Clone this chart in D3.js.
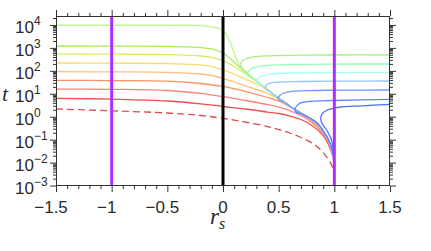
<!DOCTYPE html>
<html><head><meta charset="utf-8">
<script src="https://cdn.jsdelivr.net/npm/d3@7"></script>
<style>body{margin:0;background:#fff;overflow:hidden}</style>
</head><body>
<svg id="c" width="431" height="251"></svg>
<script>
// ---- axis / tick data ----
const xTicks = [-1.5, -1, -0.5, 0, 0.5, 1, 1.5];
const xTickLabels = ["−1.5", "−1", "−0.5", "0", "0.5", "1", "1.5"];
const yTickExps = [-3, -2, -1, 0, 1, 2, 3, 4];
const yTickLabels = ["−3", "−2", "−1", "0", "1", "2", "3", "4"];
const purpleLines = [-1, 1];
const blackLines = [0];

// ---- upper envelope (shared tail of merging curves) ----
const envR = [0.17, 0.2, 0.25, 0.3, 0.35, 0.4, 0.45, 0.5, 0.6, 0.7, 0.8, 0.85, 0.9, 0.93, 0.95, 0.97, 0.99, 1];
const envT = [126.5, 89, 56.6, 36.1, 24.1, 15.4, 9.77, 6.54, 2.93, 1.45, 0.755, 0.505, 0.238, 0.144, 0.0917, 0.0528, 0.0214, 0.00957];

// ---- left-branch curves (flat for r<0) ----
const l1R = [-1.5, -1, -0.5, -0.2, -0.1, -0.05, 0, 0.05, 0.09, 0.135, 0.17];
const l1T = [9680, 9680, 9680, 9400, 8330, 7390, 5740, 2570, 811, 231, 120];
const l2R = [-1.5, -1, -0.5, -0.2, -0.1, 0, 0.08, 0.15];
const l2T = [1211, 1199, 1175, 1042, 896, 600, 297, 140];
const l3R = [-1.5, -1, -0.5, -0.2, -0.1, 0, 0.1, 0.15, 0.2, 0.25];
const l3T = [543, 532, 511, 444, 382, 269, 155, 109, 76.6, 52.8];
const l4R = [-1.5, -1, -0.5, -0.2, -0.1, 0, 0.1, 0.15, 0.2, 0.3, 0.4];
const l4T = [220, 215, 207, 180, 152, 109, 72.8, 55.5, 44.1, 26.7, 14.6];
const l5R = [-1.5, -1, -0.5, -0.2, -0.1, 0, 0.1, 0.2, 0.3, 0.4, 0.5, 0.6, 0.7, 0.8, 0.9, 0.95, 0.99, 1];
const l5T = [91.7, 89.9, 86.4, 72.8, 62.6, 47.3, 32.6, 22.9, 15.4, 10.3, 5.91, 2.79, 1.38, 0.718, 0.226, 0.0872, 0.0203, 0.0091];
const l6R = [-1.5, -1, -0.5, -0.2, 0, 0.2, 0.4, 0.5, 0.6, 0.7, 0.8, 0.9, 0.95, 0.99, 1];
const l6T = [38.7, 37.5, 35.3, 28.1, 20.8, 12.6, 6.88, 4.84, 2.65, 1.31, 0.649, 0.215, 0.0829, 0.0193, 0.00866];
const l7R = [-1.5, -1, -0.5, -0.2, 0, 0.2, 0.4, 0.5, 0.6, 0.7, 0.8, 0.9, 0.95, 0.99, 1];
const l7T = [16.1, 15.7, 13.9, 10.3, 7.45, 5.09, 3.40, 2.65, 1.86, 1.13, 0.559, 0.185, 0.0713, 0.0175, 0.00823];
const l8R = [-1.5, -1, -0.5, -0.2, 0, 0.2, 0.4, 0.5, 0.6, 0.7, 0.8, 0.9, 0.95, 0.99, 1];
const l8T = [6.34, 5.80, 4.84, 3.65, 2.79, 2.17, 1.60, 1.38, 1.07, 0.755, 0.413, 0.151, 0.0583, 0.0158, 0.00783];
const dashR = [-1.5, -1, -0.5, -0.2, 0, 0.2, 0.4, 0.5, 0.6, 0.7, 0.8, 0.85, 0.9, 0.95, 0.98, 0.995];
const dashT = [2.17, 1.81, 1.45, 1.13, 0.852, 0.587, 0.374, 0.277, 0.195, 0.124, 0.0713, 0.0477, 0.0275, 0.0129, 0.00708, 0.00428];

// ---- right-branch curves (flat for r>1, hooking back) ----
const r1R = [1.5, 1, 0.7, 0.5, 0.35, 0.25, 0.2, 0.17, 0.16, 0.17];
const r1T = [491, 491, 481, 462, 435, 382, 328, 256, 189, 140];
const r2R = [1.5, 1, 0.6, 0.4, 0.3, 0.25, 0.23, 0.218, 0.225, 0.25];
const r2T = [199, 197, 189, 174, 150, 120, 98.4, 76.6, 62.6, 53.9];
const r3R = [1.5, 1, 0.6, 0.45, 0.38, 0.33, 0.305, 0.295, 0.31, 0.35];
const r3T = [86.4, 84.7, 80.5, 74.3, 65.9, 53.9, 42.8, 34.3, 29.5, 23.4];
const r4R = [1.5, 1, 0.7, 0.5, 0.43, 0.4, 0.385, 0.378, 0.39, 0.42];
const r4T = [36.1, 35.3, 34.3, 32.6, 30.1, 26.7, 22.9, 18.8, 15.4, 12.6];
const r5R = [1.5, 1, 0.75, 0.62, 0.55, 0.51, 0.495, 0.505, 0.55];
const r5T = [14.6, 14.3, 13.7, 12.6, 10.8, 8.41, 6.54, 5.35, 4.38];
const r6R = [1.5, 1, 0.9, 0.8, 0.72, 0.68, 0.655, 0.645, 0.655, 0.7];
const r6T = [5.74, 5.09, 4.94, 4.74, 4.29, 3.58, 2.65, 1.96, 1.60, 1.31];
const r7R = [1.5, 1.25, 1.05, 0.97, 0.93, 0.9, 0.883, 0.878, 0.885, 0.905, 0.93, 0.955, 0.975, 0.99, 0.997, 1];
const r7T = [3.47, 2.99, 2.65, 2.17, 1.86, 1.52, 1.13, 0.794, 0.559, 0.393, 0.263, 0.159, 0.0964, 0.0353, 0.0175, 0.00957];

const curveColors = {
  dash: "#e24a4a", l8: "#ef5050", l7: "#ff8080", l6: "#ff9060", l5: "#ffbe7c",
  l4: "#f6dc6a", l3: "#d6ef62", l2: "#a6ec58", l1: "#bdf792",
  r1: "#a6f07e", r2: "#90ffb4", r3: "#a4fff0", r4: "#92c8ff", r5: "#7496ff", r6: "#6283ff", r7: "#526cff"
};

// ---- layout ----
const W = 431, H = 251;
const L = 56, R = 390, T = 16, B = 186;
const svg = d3.select("#c");
const x = d3.scaleLinear().domain([-1.5, 1.5]).range([L, R]);
const y = d3.scaleLog().domain([Math.pow(10, -3.02), Math.pow(10, 4.39)]).range([B, T]);

svg.append("defs").append("clipPath").attr("id", "clip")
  .append("rect").attr("x", L).attr("y", T).attr("width", R - L).attr("height", B - T);

function withTail(rs, ts) {
  const last = rs[rs.length - 1];
  const pr = rs.slice(), pt = ts.slice();
  envR.forEach((r, i) => { if (r > last + 0.03) { pr.push(r); pt.push(envT[i]); } });
  return pr.map((r, i) => [r, pt[i]]);
}
function plain(rs, ts) { return rs.map((r, i) => [r, ts[i]]); }

const curves = [
  { pts: plain(dashR, dashT), c: curveColors.dash, dash: "7,4" },
  { pts: plain(l8R, l8T), c: curveColors.l8 },
  { pts: plain(l7R, l7T), c: curveColors.l7 },
  { pts: plain(l6R, l6T), c: curveColors.l6 },
  { pts: plain(l5R, l5T), c: curveColors.l5 },
  { pts: withTail(l4R, l4T), c: curveColors.l4 },
  { pts: withTail(l3R, l3T), c: curveColors.l3 },
  { pts: withTail(l2R, l2T), c: curveColors.l2 },
  { pts: withTail(l1R, l1T), c: curveColors.l1 },
  { pts: withTail(r1R, r1T), c: curveColors.r1 },
  { pts: withTail(r2R, r2T), c: curveColors.r2 },
  { pts: withTail(r3R, r3T), c: curveColors.r3 },
  { pts: withTail(r4R, r4T), c: curveColors.r4 },
  { pts: withTail(r5R, r5T), c: curveColors.r5 },
  { pts: withTail(r6R, r6T), c: curveColors.r6 },
  { pts: plain(r7R, r7T), c: curveColors.r7 }
];

const line = d3.line().x(d => x(d[0])).y(d => y(d[1])).curve(d3.curveCatmullRom.alpha(0.5));
const gC = svg.append("g").attr("clip-path", "url(#clip)");
curves.forEach(cv => {
  gC.append("path").attr("d", line(cv.pts)).attr("fill", "none")
    .attr("stroke", cv.c).attr("stroke-width", 1.3)
    .attr("stroke-dasharray", cv.dash || null);
});

// vertical reference lines
purpleLines.forEach(v => {
  gC.append("line").attr("x1", x(v)).attr("x2", x(v)).attr("y1", T).attr("y2", B)
    .attr("stroke", "#b22cff").attr("stroke-width", 3);
});
blackLines.forEach(v => {
  gC.append("line").attr("x1", x(v)).attr("x2", x(v)).attr("y1", T).attr("y2", B)
    .attr("stroke", "#000").attr("stroke-width", 3);
});

// axes (ticks outward)
const axCol = "#333";
const minorX = d3.range(-15, 16).map(i => i / 10).filter(v => Math.abs(v * 2 - Math.round(v * 2)) > 1e-6);
const minorY = [];
for (let e = -3; e <= 4; e++) for (let m = 2; m <= 9; m++) { const v = m * Math.pow(10, e); if (v <= y.domain()[1]) minorY.push(v); }
const majorY = yTickExps.map(e => Math.pow(10, e));

function styleAxis(g) {
  g.select(".domain").remove();
  g.selectAll("line").attr("stroke", axCol).attr("stroke-width", 1);
  g.selectAll("text").remove();
}
svg.append("g").attr("transform", `translate(0,${B})`).call(d3.axisBottom(x).tickValues(xTicks).tickSize(6).tickFormat("")).call(styleAxis);
svg.append("g").attr("transform", `translate(0,${B})`).call(d3.axisBottom(x).tickValues(minorX).tickSize(3).tickFormat("")).call(styleAxis);
svg.append("g").attr("transform", `translate(0,${T})`).call(d3.axisTop(x).tickValues(xTicks).tickSize(6).tickFormat("")).call(styleAxis);
svg.append("g").attr("transform", `translate(0,${T})`).call(d3.axisTop(x).tickValues(minorX).tickSize(3).tickFormat("")).call(styleAxis);
svg.append("g").attr("transform", `translate(${L},0)`).call(d3.axisLeft(y).tickValues(majorY).tickSize(6).tickFormat("")).call(styleAxis);
svg.append("g").attr("transform", `translate(${L},0)`).call(d3.axisLeft(y).tickValues(minorY).tickSize(3).tickFormat("")).call(styleAxis);
svg.append("g").attr("transform", `translate(${R},0)`).call(d3.axisRight(y).tickValues(majorY).tickSize(6).tickFormat("")).call(styleAxis);
svg.append("g").attr("transform", `translate(${R},0)`).call(d3.axisRight(y).tickValues(minorY).tickSize(3).tickFormat("")).call(styleAxis);

svg.append("rect").attr("x", L + 0.5).attr("y", T + 0.5).attr("width", R - L - 1).attr("height", B - T - 1)
  .attr("fill", "none").attr("stroke", axCol).attr("stroke-width", 1);

// tick labels
const font = "'Liberation Sans', Arial, Helvetica, sans-serif";
const tmp = svg.append("text").style("font-family", font).style("font-size", "17px");
xTicks.forEach((v, i) => {
  const lab = xTickLabels[i];
  const digits = lab.replace("−", "");
  tmp.text(digits);
  const w = tmp.node().getComputedTextLength();
  svg.append("text").attr("x", x(v) + w / 2).attr("y", 212.5)
    .attr("text-anchor", "end").attr("fill", "#2a2a2a")
    .style("font-family", font).style("font-size", "17px").text(lab);
});
tmp.remove();
yTickExps.forEach((e, i) => {
  const yy = y(Math.pow(10, e));
  const t = svg.append("text").attr("x", 15).attr("y", yy + 8).attr("fill", "#2a2a2a")
    .style("font-family", font).style("font-size", "17px");
  t.append("tspan").text("10");
  t.append("tspan").attr("dy", -8).style("font-size", "12px").text(yTickLabels[i]);
});

// axis titles
const serif = "'Liberation Serif', 'Times New Roman', serif";
svg.append("text").attr("x", 2).attr("y", 101).attr("fill", "#2a2a2a")
  .style("font-family", serif).style("font-style", "italic").style("font-size", "22px").text("t");
const xt = svg.append("text").attr("x", 210).attr("y", 224).attr("fill", "#2a2a2a")
  .style("font-family", serif).style("font-style", "italic").style("font-size", "23px");
xt.append("tspan").text("r");
xt.append("tspan").attr("dy", 5).style("font-size", "16px").text("s");
</script>
</body></html>
